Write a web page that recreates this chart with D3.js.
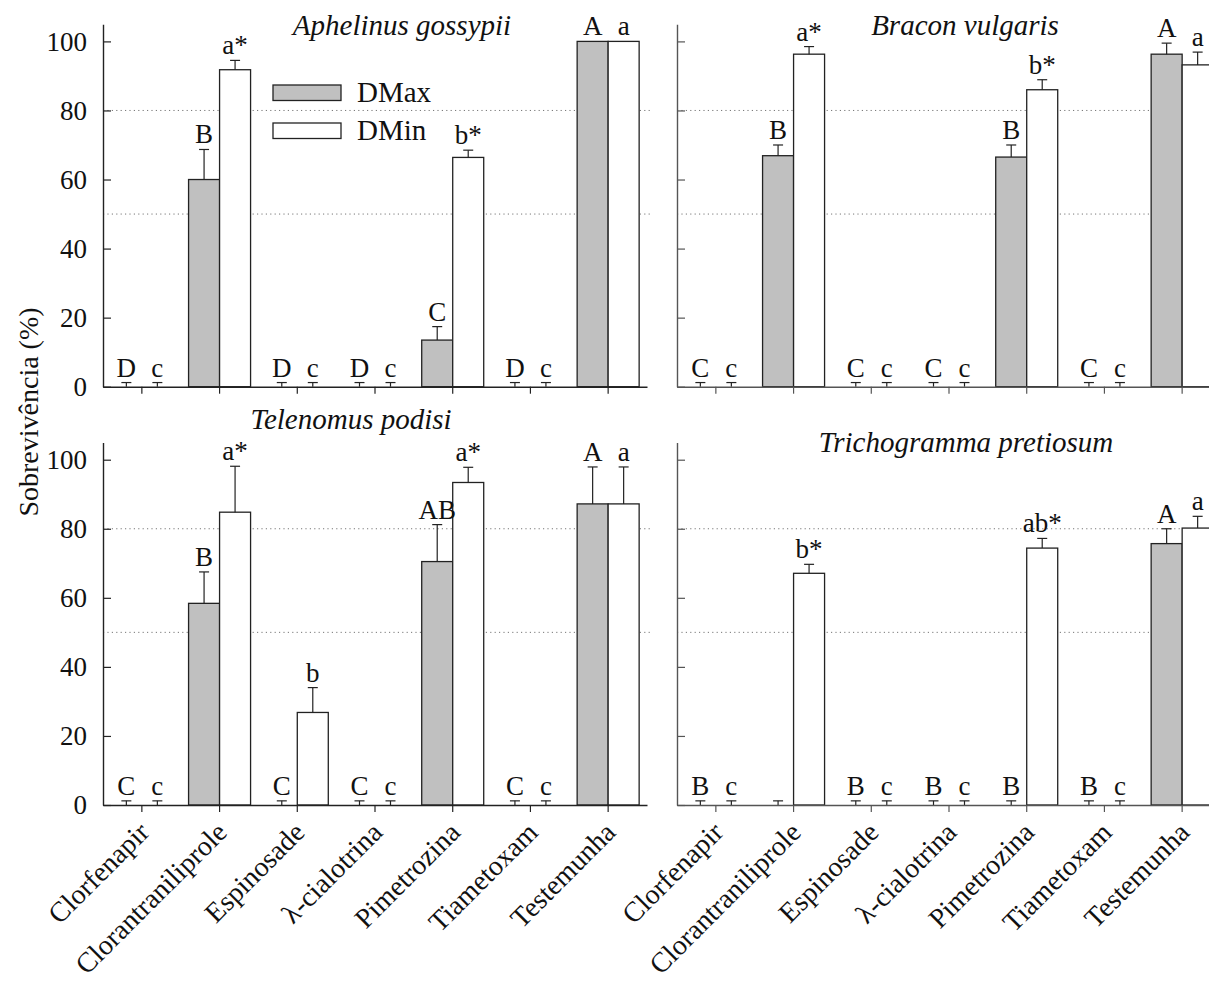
<!DOCTYPE html>
<html>
<head>
<meta charset="utf-8">
<script src="https://cdn.jsdelivr.net/npm/d3@7"></script>
<style>
  body { margin: 0; background: #fff; }
  svg { display: block; font-family: "Liberation Serif", "Times New Roman", serif; }
</style>
</head>
<body>
<svg id="chart" width="1209" height="981"></svg>
<script>
// treatments on the x axis, same for all panels
const treatments = ['Clorfenapir', 'Clorantraniliprole', 'Espinosade', 'λ-cialotrina', 'Pimetrozina', 'Tiametoxam', 'Testemunha']
const seriesNames = ['DMax', 'DMin']
const yTicks = [0, 20, 40, 60, 80, 100]
const refLines = [50, 80]

// Aphelinus gossypii
const aphelinusMax = [0, 60, 0, 0, 13.5, 0, 100]
const aphelinusMaxErr = [1.2, 8.7, 1.2, 1.2, 3.9, 1.2, 0]
const aphelinusMaxLbl = ['D', 'B', 'D', 'D', 'C', 'D', 'A']
const aphelinusMin = [0, 91.8, 0, 0, 66.4, 0, 100]
const aphelinusMinErr = [1.2, 2.7, 1.2, 1.2, 2.1, 1.2, 0]
const aphelinusMinLbl = ['c', 'a*', 'c', 'c', 'b*', 'c', 'a']

// Bracon vulgaris
const braconMax = [0, 66.9, 0, 0, 66.5, 0, 96.3]
const braconMaxErr = [1.2, 3.1, 1.2, 1.2, 3.5, 1.2, 3.2]
const braconMaxLbl = ['C', 'B', 'C', 'C', 'B', 'C', 'A']
const braconMin = [0, 96.3, 0, 0, 86.0, 0, 93.2]
const braconMinErr = [1.2, 2.2, 1.2, 1.2, 2.9, 1.2, 3.7]
const braconMinLbl = ['c', 'a*', 'c', 'c', 'b*', 'c', 'a']

// Telenomus podisi
const telenomusMax = [0, 58.4, 0, 0, 70.5, 0, 87.2]
const telenomusMaxErr = [1.2, 9.1, 1.2, 1.2, 10.7, 1.2, 10.7]
const telenomusMaxLbl = ['C', 'B', 'C', 'C', 'AB', 'C', 'A']
const telenomusMin = [0, 84.8, 26.8, 0, 93.4, 0, 87.2]
const telenomusMinErr = [1.2, 13.3, 7.2, 1.2, 4.4, 1.2, 10.7]
const telenomusMinLbl = ['c', 'a*', 'b', 'c', 'a*', 'c', 'a']

// Trichogramma pretiosum
const trichoMax = [0, 0, 0, 0, 0, 0, 75.7]
const trichoMaxErr = [1.2, 1.2, 1.2, 1.2, 1.2, 1.2, 4.3]
const trichoMaxLbl = ['B', '', 'B', 'B', 'B', 'B', 'A']
const trichoMin = [0, 67.1, 0, 0, 74.4, 0, 80.2]
const trichoMinErr = [1.2, 2.6, 1.2, 1.2, 2.8, 1.2, 3.4]
const trichoMinLbl = ['c', 'b*', 'c', 'c', 'ab*', 'c', 'a']

const panels = [
  { title: 'Aphelinus gossypii', col: 0, row: 0, tx: 402, ty: 35, legend: true,
    max: aphelinusMax, maxErr: aphelinusMaxErr, maxLbl: aphelinusMaxLbl,
    min: aphelinusMin, minErr: aphelinusMinErr, minLbl: aphelinusMinLbl },
  { title: 'Bracon vulgaris', col: 1, row: 0, tx: 965, ty: 35,
    max: braconMax, maxErr: braconMaxErr, maxLbl: braconMaxLbl,
    min: braconMin, minErr: braconMinErr, minLbl: braconMinLbl },
  { title: 'Telenomus podisi', col: 0, row: 1, tx: 351, ty: 429,
    max: telenomusMax, maxErr: telenomusMaxErr, maxLbl: telenomusMaxLbl,
    min: telenomusMin, minErr: telenomusMinErr, minLbl: telenomusMinLbl },
  { title: 'Trichogramma pretiosum', col: 1, row: 1, tx: 966, ty: 452,
    max: trichoMax, maxErr: trichoMaxErr, maxLbl: trichoMaxLbl,
    min: trichoMin, minErr: trichoMinErr, minLbl: trichoMinLbl }
]

const svg = d3.select('#chart'),
    colX = [103, 677],
    rowBase = [386.7, 805],
    pw = 544,
    barW = 31,
    fills = { DMax: '#c0c0c0', DMin: '#ffffff' },
    ink = '#222'

panels.forEach(p => {
  let x0 = colX[p.col], base = rowBase[p.row]
  let axisInk = p.col ? '#555' : ink
  let x = d3.scaleBand().domain(treatments).range([x0, x0 + pw]).padding(0)
  let y = d3.scaleLinear().domain([0, 105]).range([base, base - 105 * 3.453])
  let g = svg.append('g')

  // dotted reference lines
  g.selectAll('.ref').data(refLines).join('line')
    .attr('x1', x0).attr('x2', x0 + pw + 4)
    .attr('y1', d => y(d)).attr('y2', d => y(d))
    .attr('stroke', '#777').attr('stroke-width', 1)
    .attr('stroke-dasharray', '1.2,3.2')

  // bars + error bars + letters
  let rows = []
  treatments.forEach((t, i) => {
    rows.push({ t, s: 'DMax', v: p.max[i], e: p.maxErr[i], l: p.maxLbl[i], off: -barW })
    rows.push({ t, s: 'DMin', v: p.min[i], e: p.minErr[i], l: p.minLbl[i], off: 0 })
  })
  let cx = d => x(d.t) + x.bandwidth() / 2 + d.off

  g.selectAll('rect.bar').data(rows.filter(d => d.v > 0)).join('rect')
    .attr('x', cx).attr('width', barW)
    .attr('y', d => y(d.v)).attr('height', d => base - y(d.v))
    .attr('fill', d => fills[d.s]).attr('stroke', ink).attr('stroke-width', 1.3)

  let eb = rows.filter(d => d.e > 0)
  g.selectAll('line.err').data(eb).join('line')
    .attr('x1', d => cx(d) + barW / 2).attr('x2', d => cx(d) + barW / 2)
    .attr('y1', d => y(d.v)).attr('y2', d => y(d.v + d.e))
    .attr('stroke', ink).attr('stroke-width', 1.2)
  g.selectAll('line.cap').data(eb).join('line')
    .attr('x1', d => cx(d) + barW / 2 - 5).attr('x2', d => cx(d) + barW / 2 + 5)
    .attr('y1', d => y(d.v + d.e)).attr('y2', d => y(d.v + d.e))
    .attr('stroke', ink).attr('stroke-width', 1.2)

  g.selectAll('text.lbl').data(rows.filter(d => d.l)).join('text')
    .attr('x', d => cx(d) + barW / 2).attr('y', d => y(d.v + d.e) - 6)
    .attr('text-anchor', 'middle').attr('font-size', 27).attr('fill', '#111')
    .text(d => d.l)

  // axes
  let yAxis = d3.axisLeft(y).tickValues(yTicks).tickSizeInner(-8).tickSizeOuter(0).tickPadding(p.col ? 0 : 16)
  let ya = g.append('g').attr('transform', `translate(${x0},0)`).call(yAxis)
  ya.select('.domain').attr('stroke', axisInk).attr('stroke-width', 1.4)
  ya.selectAll('.tick line').attr('stroke', axisInk).attr('stroke-width', 1.2)
  ya.selectAll('text').attr('font-size', 27).attr('font-family', '"Liberation Serif", serif').attr('fill', '#111')
  if (p.col) ya.selectAll('text').remove()

  let xAxis = d3.axisBottom(x).tickSizeInner(7).tickSizeOuter(0).tickFormat('')
  let xa = g.append('g').attr('transform', `translate(0,${base})`).call(xAxis)
  xa.select('.domain').attr('stroke', axisInk).attr('stroke-width', 1.4)
  xa.selectAll('.tick line').attr('stroke', axisInk).attr('stroke-width', 1.2)

  if (p.row === 1) {
    g.selectAll('text.xl').data(treatments).join('text')
      .attr('transform', d => `translate(${x(d) + x.bandwidth() / 2 + 9},${base + 29}) rotate(-45)`)
      .attr('text-anchor', 'end').attr('font-size', 28).attr('fill', '#111')
      .text(d => d)
  }

  g.append('text').attr('x', p.tx).attr('y', p.ty)
    .attr('text-anchor', 'middle').attr('font-size', 29).attr('font-style', 'italic').attr('fill', '#111')
    .text(p.title)

  if (p.legend) {
    let lg = g.append('g')
    seriesNames.forEach((s, i) => {
      lg.append('rect').attr('x', 273).attr('y', 85 + i * 38).attr('width', 68).attr('height', 15.5)
        .attr('fill', fills[s]).attr('stroke', ink).attr('stroke-width', 1.3)
      lg.append('text').attr('x', 357).attr('y', 102 + i * 38)
        .attr('font-size', 29).attr('fill', '#111').text(s)
    })
  }
})

svg.append('text')
  .attr('transform', 'translate(38,412) rotate(-90)')
  .attr('text-anchor', 'middle').attr('font-size', 28).attr('fill', '#111')
  .text('Sobrevivência (%)')
</script>
</body>
</html>
